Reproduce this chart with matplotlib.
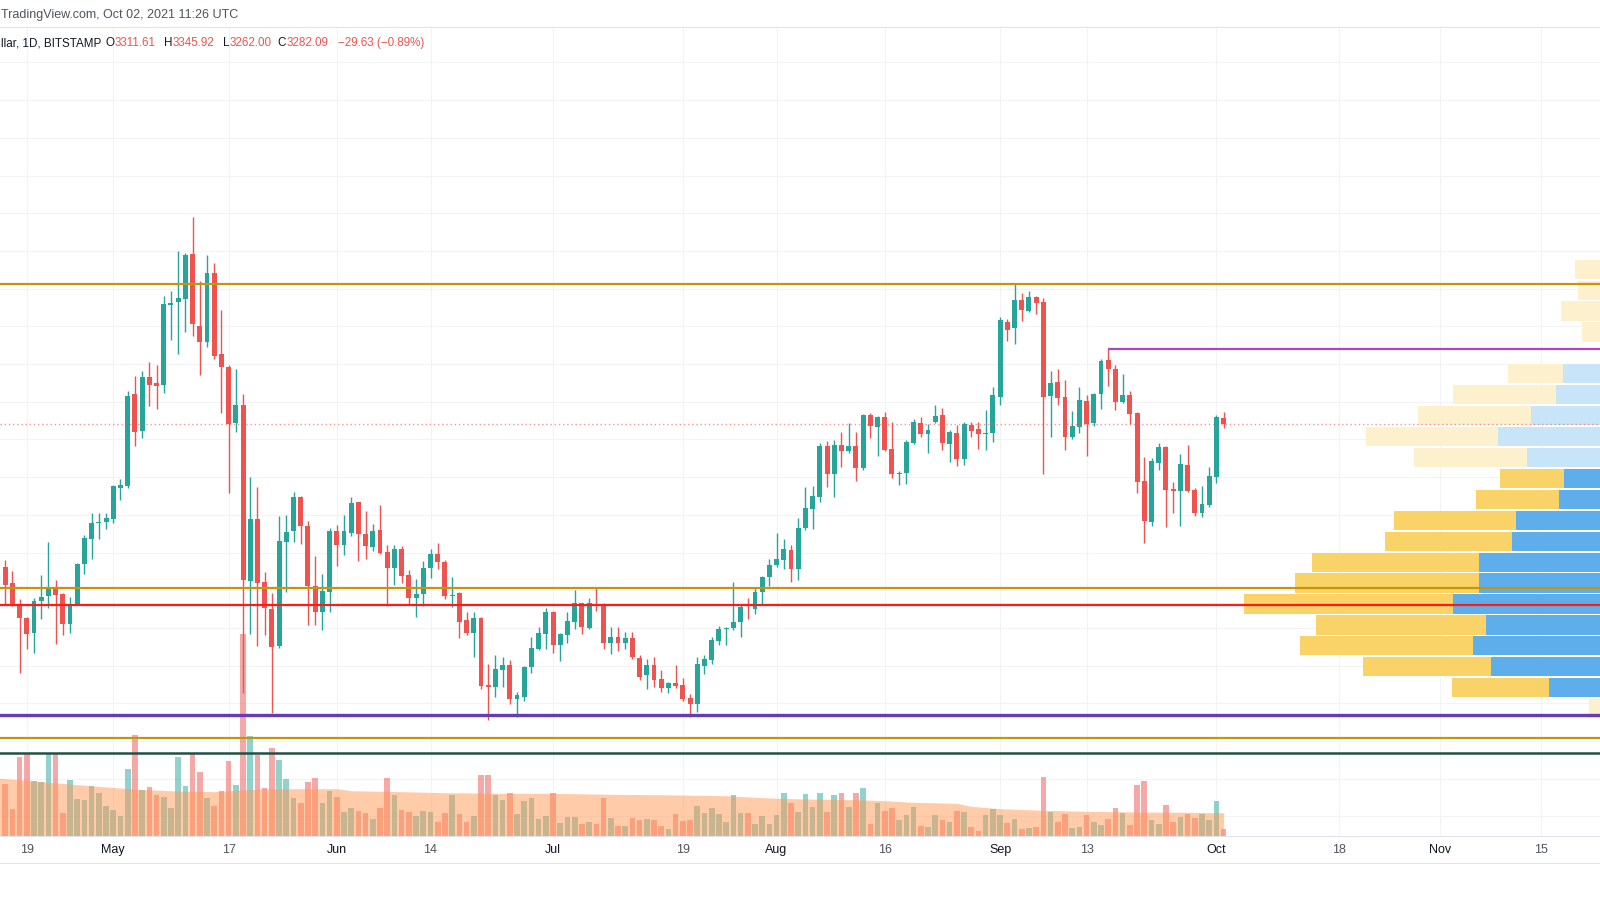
import numpy as np
import pandas as pd
import matplotlib
matplotlib.use("Agg")
import matplotlib.pyplot as plt
import matplotlib.dates as mdates
import matplotlib.transforms as mtransforms
from matplotlib.lines import Line2D

plt.rcParams['font.family'] = ['Liberation Sans', 'DejaVu Sans']

# ---------------- data ----------------
dates = pd.date_range("2021-04-16", "2021-10-02", freq="D")

opens = [2521, 2437, 2322, 2254, 2171, 2343, 2369, 2407, 2378, 2221, 2326, 2538, 2672, 2755, 2760,
         2776, 2945, 2954, 3440, 3245, 3530, 3501, 3489, 3913, 3931, 3945, 4184, 3802, 3719, 4081, 3652,
         3586, 3286, 3383, 2451, 2778, 2442, 2300, 2106, 2654, 2716, 2896, 2742, 2422, 2286, 2389,
         2714, 2640, 2705, 2867, 2698, 2631, 2720, 2601, 2516, 2617, 2481, 2357, 2380, 2516, 2591,
         2551, 2371, 2384, 2242, 2171, 2251, 1898, 1885, 1977, 2004, 1822, 1836, 1992, 2089, 2168,
         2286, 2110, 2163, 2233, 2331, 2198, 2322, 2322, 2119, 2154, 2119, 2149, 2042, 1950, 2004,
         1931, 1883, 1910, 1898, 1827, 1797, 1998, 2030, 2132, 2193, 2198, 2233, 2313, 2300, 2389, 2472,
         2534, 2560, 2613, 2511, 2729, 2831, 2897, 3165, 3017, 3170, 3140, 3165, 3047, 3330, 3265,
         3321, 3149, 3017, 3021, 3183, 3286, 3229, 3294, 3330, 3174, 3233, 3096, 3277, 3254, 3228, 3233,
         3427, 3825, 3793, 3940, 3883, 3954, 3927, 3432, 3503, 3427, 3211, 3268, 3406, 3286, 3440,
         3621, 3574, 3400, 3436, 3339, 2981, 2764, 3077, 3161, 2937, 2928, 3064, 2932, 2808, 2850,
         3003, 3311.61]
highs = [2560, 2504, 2352, 2260, 2357, 2481, 2654, 2454, 2385, 2366, 2545, 2693, 2808, 2808, 2808,
         2960, 2989, 3459, 3536, 3563, 3612, 3595, 3961, 3987, 4200, 4190, 4382, 4042, 4178, 4134, 3885,
         3595, 3572, 3440, 3003, 2949, 2495, 2384, 2795, 2799, 2920, 2900, 2769, 2582, 2485, 2732,
         2746, 2800, 2893, 2870, 2820, 2750, 2850, 2640, 2640, 2635, 2507, 2460, 2557, 2617, 2649,
         2560, 2472, 2390, 2283, 2283, 2260, 2007, 2057, 2048, 2030, 1859, 1998, 2154, 2207, 2304,
         2290, 2175, 2286, 2402, 2335, 2361, 2416, 2335, 2207, 2207, 2180, 2180, 2057, 2034, 2048,
         1977, 1915, 2004, 1933, 1850, 2048, 2057, 2150, 2211, 2205, 2442, 2326, 2357, 2419, 2478, 2564,
         2705, 2670, 2640, 2782, 2949, 2953, 3180, 3192, 3197, 3241, 3286, 3241, 3335, 3339, 3325,
         3347, 3294, 3030, 3195, 3309, 3321, 3282, 3383, 3369, 3250, 3277, 3290, 3291, 3291, 3356, 3477,
         3851, 3840, 4023, 3975, 3987, 3960, 3949, 3563, 3574, 3516, 3351, 3477, 3436, 3445, 3625,
         3680, 3595, 3547, 3459, 3345, 3105, 3100, 3180, 3165, 2976, 3123, 3171, 2940, 2953, 3056,
         3330, 3345.92]
lows = [2322, 2315, 1963, 2087, 2066, 2246, 2304, 2113, 2163, 2171, 2320, 2486, 2564, 2670, 2725,
        2755, 2879, 2940, 3165, 3209, 3379, 3360, 3448, 3728, 3652, 3772, 3749, 3542, 3692, 3628, 3342,
        2918, 3241, 1857, 2168, 2106, 2163, 1747, 2092, 2389, 2654, 2645, 2216, 2216, 2189, 2283,
        2530, 2585, 2690, 2555, 2565, 2610, 2590, 2317, 2430, 2440, 2327, 2260, 2317, 2467, 2511,
        2355, 2310, 2145, 2165, 2048, 1874, 1712, 1832, 1888, 1797, 1729, 1814, 1963, 2083, 2087,
        2069, 2026, 2119, 2193, 2166, 2195, 2290, 2088, 2060, 2078, 2087, 2035, 1924, 1874, 1888,
        1859, 1853, 1880, 1815, 1729, 1756, 1956, 2010, 2110, 2110, 2189, 2154, 2246, 2272, 2322, 2422,
        2525, 2511, 2445, 2454, 2720, 2723, 2870, 2949, 2897, 3056, 3127, 2981, 3040, 3206, 3114,
        3140, 2994, 2958, 2964, 3175, 3211, 3130, 3285, 3144, 3082, 3059, 3064, 3214, 3149, 3144, 3188,
        3383, 3722, 3706, 3830, 3875, 3864, 3017, 3214, 3383, 3144, 3200, 3233, 3114, 3270, 3360,
        3484, 3356, 3395, 3282, 2918, 2649, 2740, 3038, 2734, 2808, 2742, 2920, 2795, 2787, 2840,
        2971, 3262.00]
closes = [2428, 2322, 2251, 2168, 2345, 2366, 2414, 2375, 2221, 2326, 2539, 2676, 2758, 2764, 2785,
          2955, 2958, 3430, 3238, 3529, 3489, 3485, 3918, 3925, 3949, 4178, 3811, 3719, 4081, 3644, 3586,
          3282, 3383, 2454, 2778, 2440, 2304, 2100, 2661, 2707, 2893, 2742, 2422, 2286, 2398, 2714,
          2640, 2714, 2861, 2697, 2636, 2714, 2599, 2516, 2617, 2476, 2357, 2378, 2520, 2591, 2548,
          2371, 2377, 2233, 2171, 2251, 1894, 1888, 1981, 2004, 1822, 1845, 1992, 2092, 2171, 2286,
          2110, 2168, 2237, 2334, 2207, 2334, 2318, 2119, 2154, 2119, 2149, 2044, 1941, 2004, 1924,
          1883, 1910, 1892, 1823, 1795, 2007, 2034, 2136, 2193, 2201, 2233, 2313, 2309, 2392, 2472, 2534,
          2564, 2617, 2511, 2732, 2835, 2900, 3165, 3017, 3170, 3140, 3165, 3050, 3330, 3273, 3321,
          3144, 3017, 3024, 3188, 3291, 3229, 3250, 3325, 3180, 3238, 3096, 3282, 3245, 3228, 3233, 3436,
          3834, 3781, 3940, 3887, 3954, 3925, 3427, 3498, 3421, 3211, 3271, 3409, 3282, 3440, 3618,
          3572, 3400, 3436, 3333, 2976, 2769, 3086, 3158, 2932, 2928, 3068, 2928, 2808, 2857, 3008,
          3321, 3282.09]
volume = [52, 27, 79, 82, 55, 54, 82, 82, 23, 56, 37, 36, 50, 43, 30,
          26, 20, 67, 101, 46, 49, 41, 39, 28, 79, 50, 82, 64, 38, 30, 45,
          75, 51, 202, 100, 81, 48, 88, 76, 57, 38, 33, 54, 58, 33, 45,
          39, 24, 28, 25, 23, 17, 28, 58, 41, 26, 24, 20, 25, 24, 14,
          23, 41, 22, 14, 20, 61, 61, 41, 36, 43, 22, 35, 38, 17, 20,
          43, 13, 19, 19, 12, 14, 12, 38, 18, 10, 10, 18, 16, 17, 16,
          10, 7, 22, 15, 16, 30, 23, 28, 22, 14, 41, 23, 23, 12, 20, 12,
          21, 43, 33, 24, 42, 29, 43, 24, 41, 43, 29, 43, 48, 12, 33,
          25, 28, 16, 21, 29, 10, 9, 21, 16, 14, 25, 24, 9, 5, 21, 27,
          21, 13, 17, 7, 8, 9, 59, 24, 14, 22, 8, 9, 21, 14, 11,
          17, 28, 23, 11, 51, 55, 16, 12, 31, 14, 19, 22, 18, 22, 16,
          35, 7]
ma_dates = ["2021-04-15", "2021-04-20", "2021-04-25", "2021-04-30", "2021-05-05", "2021-05-10",
            "2021-05-15", "2021-05-18", "2021-05-22", "2021-06-01", "2021-06-03", "2021-06-10",
            "2021-06-16", "2021-06-24", "2021-07-01", "2021-07-09", "2021-07-16", "2021-07-25",
            "2021-07-31", "2021-08-05", "2021-08-12", "2021-08-16", "2021-08-20", "2021-08-26",
            "2021-08-28", "2021-09-01", "2021-09-07", "2021-09-13", "2021-09-20", "2021-09-27",
            "2021-10-02"]
ma_values = [58, 55, 52, 49, 46.5, 45, 44.3, 45.7, 47.3, 47.3, 45.3, 44.3, 43.3, 42.7, 42.7, 41.7,
             41.3, 40.3, 38, 37, 36.3, 35.3, 33.7, 32.7, 29.7, 27.3, 25.7, 24.7, 24, 23.7, 23.3]

profile_price = [4103, 3992, 3881, 3770, 3659, 3548, 3437, 3326, 3215, 3104, 2993, 2882, 2771,
                 2660, 2549, 2438, 2327, 2216, 2105, 1994, 1883, 1772]
profile_up = [30, 30, 35, 28, 15, 77, 84, 109, 142, 113, 76, 81, 124, 128, 161, 161, 187, 154,
              167, 149, 91, 25]
profile_down = [35, 32, 44, 30, 15, 55, 103, 113, 132, 113, 64, 83, 122, 127, 167, 184, 209, 170,
                173, 128, 97, 26]
value_area = [False] * 10 + [True] * 11 + [False]

levels = [4026, 2414, 2323, 1740, 1618, 1537]
level_colors = ['#C4960C', '#C4960C', '#FF1A1A', '#673AB7', '#C4960C', '#1F5147']
level_widths = [1.6, 1.6, 1.6, 2.4, 1.6, 1.8]
resist_start = "2021-09-16"
resist_price = 3678
last_price = 3282.09

tick_dates = ["2021-04-19", "2021-05-01", "2021-05-17", "2021-06-01", "2021-06-14", "2021-07-01",
              "2021-07-19", "2021-08-01", "2021-08-16", "2021-09-01", "2021-09-13", "2021-10-01",
              "2021-10-18", "2021-11-01", "2021-11-15"]
tick_labels = ["19", "May", "17", "Jun", "14", "Jul", "19", "Aug", "16", "Sep", "13", "Oct",
               "18", "Nov", "15"]

# ---------------- figure ----------------
UP, DN = '#26A69A', '#EF5350'
GRID = '#F2F3F6'
fig = plt.figure(figsize=(16, 9), dpi=100)
fig.patch.set_facecolor('white')
rect = [0, 64 / 900, 1, 809 / 900]
vol_ax = fig.add_axes(rect, zorder=1)
price_ax = fig.add_axes(rect, zorder=2, sharex=vol_ax)
prof_ax = fig.add_axes(rect, zorder=3)

x = mdates.date2num(dates)
x_left = mdates.date2num(pd.Timestamp("2021-04-15")) + 0.29
x_right = x_left + 1600 / 7.21
ylo, yhi = 1096.3, 5388

o = np.array(opens, float); h = np.array(highs, float)
l = np.array(lows, float); c = np.array(closes, float)
up = c >= o
cols = np.where(up, UP, DN)

price_ax.set_ylim(ylo, yhi)
price_ax.set_xlim(x_left, x_right)

# volume pane (bottom layer, with grid)
vol_ax.set_facecolor('white')
vol_ax.set_ylim(0, 809)
vol_ax.set_xlim(x_left, x_right)
grid_tr = mtransforms.blended_transform_factory(vol_ax.transAxes, price_ax.transData)
for p in np.arange(1200, 5401, 200):
    vol_ax.plot([0, 1], [p, p], color=GRID, lw=0.8, transform=grid_tr, zorder=0)
for td in tick_dates:
    vol_ax.axvline(mdates.date2num(pd.Timestamp(td)), color=GRID, lw=0.8, zorder=0)
vol_ax.bar(x, volume, width=0.78, color=cols, alpha=0.5, linewidth=0, zorder=2)
vol_ax.fill_between(mdates.date2num(pd.to_datetime(ma_dates)), ma_values, 0,
                    color='#FF9955', alpha=0.5, linewidth=0, zorder=3)
vol_ax.axis('off')

# price
price_ax.set_facecolor('none')
price_ax.vlines(x, l, h, colors=cols, linewidth=1.0, zorder=3)
body_bottom = np.minimum(o, c)
body_h = np.maximum(np.abs(c - o), 4)
price_ax.bar(x, body_h, bottom=body_bottom, width=0.68, color=cols, linewidth=0, zorder=4)
price_ax.hlines(resist_price, mdates.date2num(pd.Timestamp(resist_start)), x_right,
                colors='#AB47BC', linewidth=1.6, zorder=5)

price_ax.set_yticks([])
price_ax.set_xticks([mdates.date2num(pd.Timestamp(t)) for t in tick_dates])
price_ax.set_xticklabels(tick_labels, fontsize=9)
price_ax.tick_params(axis='x', length=0, pad=6)
for lab, txt in zip(price_ax.get_xticklabels(), tick_labels):
    lab.set_color('#131722' if txt.isalpha() else '#50535E')
for s in price_ax.spines.values():
    s.set_visible(False)

# volume profile + levels
prof_ax.set_facecolor('none')
prof_ax.set_xlim(1640, 40)
prof_ax.set_ylim(ylo, yhi)
row_h = 111 * 0.92
for pr, u, d, va in zip(profile_price, profile_up, profile_down, value_area):
    bcol = '#5EAEEC' if va else '#C8E4F8'
    ycol = '#F9D368' if va else '#FDF0CC'
    prof_ax.barh(pr, u, left=0, height=row_h, color=bcol, linewidth=0, zorder=1)
    prof_ax.barh(pr, d, left=u, height=row_h, color=ycol, linewidth=0, zorder=1)
for lv, lc, lw in zip(levels, level_colors, level_widths):
    prof_ax.axhline(lv, color=lc, lw=lw, zorder=3)
prof_ax.axhline(last_price, color=DN, lw=1.0, ls=(0, (1, 2)), alpha=0.6, zorder=4)
prof_ax.axis('off')

# frame lines
for yy in (27, 836, 863):
    fig.add_artist(Line2D([0, 1], [1 - yy / 900] * 2, color='#E0E3EB', lw=0.8,
                          transform=fig.transFigure))

# texts
def ftxt(px, py, s, color, size=8.5):
    fig.text(px / 1600, 1 - py / 900, s, color=color, fontsize=size, ha='left', va='center')

ftxt(1, 15, "TradingView.com, Oct 02, 2021 11:26 UTC", '#50535E', 9)
ftxt(1, 43, "llar, 1D, BITSTAMP", '#131722', 8.4)
ftxt(106, 43, "O", '#131722', 8.4); ftxt(115, 43, "3311.61", DN, 8.4)
ftxt(164, 43, "H", '#131722', 8.4); ftxt(173, 43, "3345.92", DN, 8.4)
ftxt(223, 43, "L", '#131722', 8.4); ftxt(230, 43, "3262.00", DN, 8.4)
ftxt(277, 43, "C", '#131722', 8.4); ftxt(287, 43, "3282.09", DN, 8.4)
ftxt(338, 43, "\u221229.63 (\u22120.89%)", DN, 8.4)

fig.savefig("out.png", dpi=100, facecolor='white')
